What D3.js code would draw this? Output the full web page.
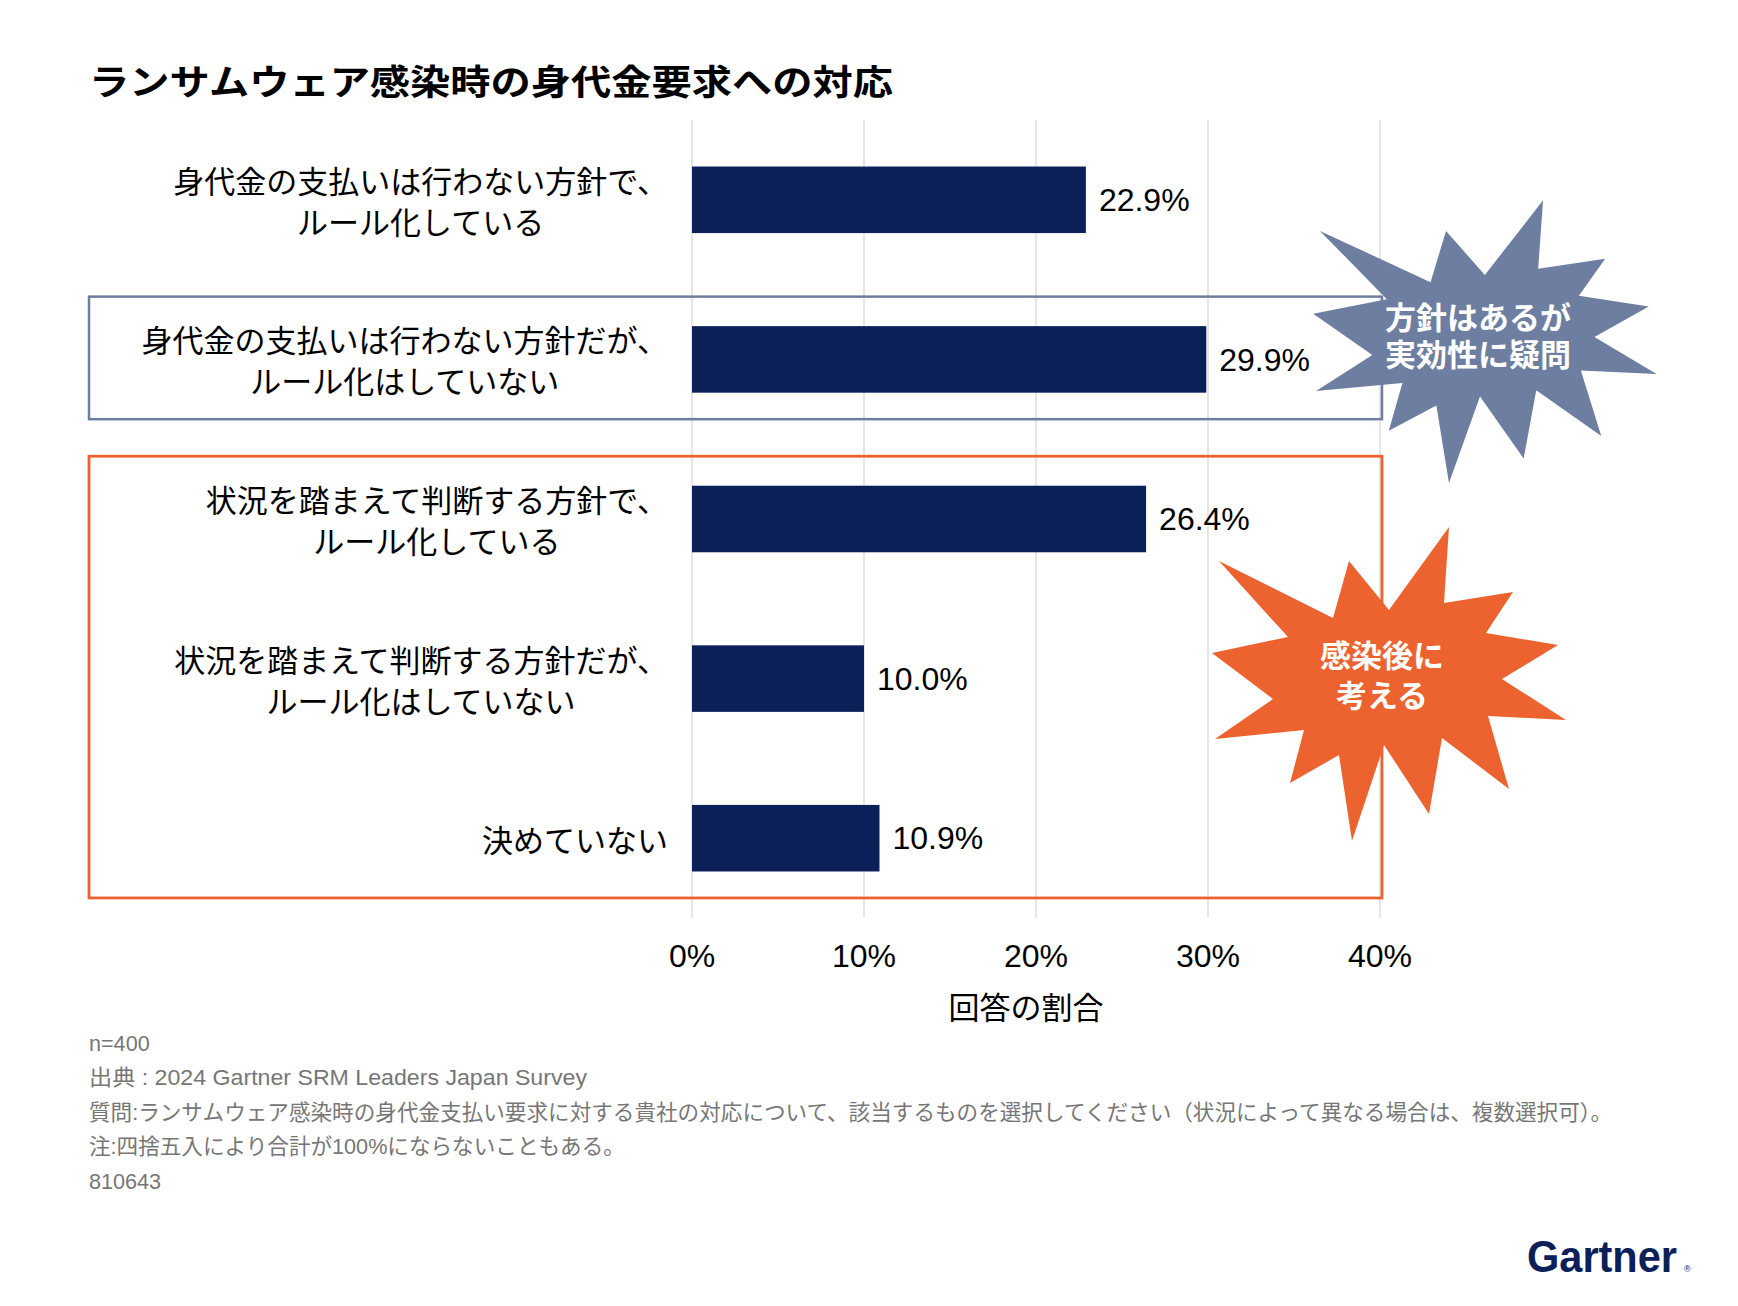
<!DOCTYPE html>
<html><head><meta charset="utf-8">
<script src="https://cdn.jsdelivr.net/npm/d3@7"></script>
<style>
html,body{margin:0;padding:0;background:#fff;}
svg{display:block;}
</style></head>
<body>
<script>
// ---- data ----
const categories = [
  ["身代金の支払いは行わない方針で、","ルール化している"],
  ["身代金の支払いは行わない方針だが、","ルール化はしていない"],
  ["状況を踏まえて判断する方針で、","ルール化している"],
  ["状況を踏まえて判断する方針だが、","ルール化はしていない"],
  ["決めていない"]
];
const values = [22.9, 29.9, 26.4, 10.0, 10.9];
const xTicks = [0, 10, 20, 30, 40];
const title = "ランサムウェア感染時の身代金要求への対応";
const xAxisTitle = "回答の割合";
const groupSlate = [1, 1];      // category index range for slate box
const groupOrange = [2, 4];     // category index range for orange box
const slateBurstText = ["方針はあるが","実効性に疑問"];
const orangeBurstText = ["感染後に","考える"];
const footnotes = [
  "n=400",
  "出典 : 2024 Gartner SRM Leaders Japan Survey",
  "質問:ランサムウェア感染時の身代金支払い要求に対する貴社の対応について、該当するものを選択してください（状況によって異なる場合は、複数選択可）。",
  "注:四捨五入により合計が100%にならないこともある。",
  "810643"
];

// ---- styles ----
const W = 1738, H = 1306;
const NAVY = "#0b2059", SLATE = "#6e7ea0", ORANGE = "#ec6330", GRID = "#d9d9d9";
const FONT = "'Liberation Sans', 'Noto Sans CJK JP', sans-serif";
const burstShape = [[-165,-119],[-51,-62],[-35,-119],[5,-70],[65,-153],[60,-77],[129,-88],[102,-47],[174,-35],[118,-1],[182,40],[104,36],[125,109],[58,58],[45,134],[0,65],[-32,161],[-45,75],[-94,103],[-80,50],[-169,59],[-111,19],[-172,-27],[-96,-43]];

const svg = d3.select("body").append("svg").attr("width", W).attr("height", H)
  .style("font-family", FONT);

const ids = categories.map((d,i)=>i);
const x = d3.scaleLinear().domain([0, 40]).range([692, 1380]);
const y = d3.scaleBand().domain(ids).range([120, 918]).paddingInner(0.583).paddingOuter(0.2915);

// title
svg.append("text").attr("x", 89).attr("y", 95)
  .attr("font-family", "'Noto Sans CJK JP', sans-serif")
  .attr("font-weight", 700).attr("font-size", 35).attr("fill", "#000")
  .attr("textLength", 804).attr("lengthAdjust", "spacingAndGlyphs")
  .text(title);

// gridlines
svg.append("g").selectAll("line").data(xTicks).join("line")
  .attr("x1", d=>x(d)).attr("x2", d=>x(d))
  .attr("y1", y.range()[0]).attr("y2", y.range()[1])
  .attr("stroke", GRID).attr("stroke-width", 1.3);

// tick labels
svg.append("g").selectAll("text").data(xTicks).join("text")
  .attr("x", d=>x(d)).attr("y", 967)
  .attr("text-anchor", "middle").attr("font-size", 32).attr("fill", "#000")
  .text(d=>d + "%");

svg.append("text").attr("x", 1026).attr("y", 1019)
  .attr("text-anchor", "middle").attr("font-size", 31).attr("fill", "#000")
  .attr("font-family", "'Noto Sans CJK JP', sans-serif")
  .text(xAxisTitle);

// group boxes
function groupBox(range, color, sw) {
  const top = y(range[0]) - 29.5;
  const bot = y(range[1]) + y.bandwidth() + 26.5;
  svg.append("rect").attr("x", 89).attr("y", top)
    .attr("width", 1382 - 89).attr("height", bot - top)
    .attr("fill", "none").attr("stroke", color).attr("stroke-width", sw);
}
groupBox(groupSlate, SLATE, 2.5);
groupBox(groupOrange, ORANGE, 2.8);

// bars
svg.append("g").selectAll("rect").data(values).join("rect")
  .attr("x", x(0)).attr("y", (d,i)=>y(i))
  .attr("width", d=>x(d) - x(0)).attr("height", y.bandwidth())
  .attr("fill", NAVY);

// value labels
svg.append("g").selectAll("text").data(values).join("text")
  .attr("x", d=>x(d) + 13).attr("y", (d,i)=>y(i) + y.bandwidth()/2)
  .attr("dy", "0.35em").attr("font-size", 32).attr("fill", "#000")
  .text(d=>d.toFixed(1) + "%");

// category labels (block right aligned, lines centered)
const labelRight = 668, lineGap = 41;
categories.forEach((lines, i) => {
  const cy = y(i) + y.bandwidth()/2;
  const t = svg.append("text")
    .attr("font-family", "'Noto Sans CJK JP', sans-serif")
    .attr("font-size", 31).attr("fill", "#000")
    .attr("text-anchor", "middle");
  const ts = lines.map((s, k) => t.append("tspan")
    .attr("dominant-baseline", "central")
    .attr("y", cy + (k - (lines.length-1)/2) * lineGap)
    .text(s));
  const maxW = d3.max(ts, s => s.node().getComputedTextLength());
  ts.forEach(s => s.attr("x", labelRight - maxW/2));
});

// starbursts
function burst(cx, cy, sx, sy, color, lines, tcy, gap) {
  svg.append("polygon")
    .attr("points", burstShape.map(p => [cx + p[0]*sx, cy + p[1]*sy].join(",")).join(" "))
    .attr("fill", color);
  const t = svg.append("text")
    .attr("text-anchor", "middle")
    .attr("font-family", FONT)
    .attr("font-weight", 700).attr("font-size", 31).attr("fill", "#fff");
  lines.forEach((s, k) => t.append("tspan")
    .attr("x", cx - 2).attr("y", tcy + (k - (lines.length-1)/2) * gap + 11)
    .text(s));
}
burst(1480, 338, 0.97, 0.9, SLATE, slateBurstText, 336, 37);
burst(1384, 680, 1, 1, ORANGE, orangeBurstText, 676, 40);

// footnotes
svg.append("g").selectAll("text").data(footnotes).join("text")
  .attr("x", 89).attr("y", (d,i)=>1050.5 + i*34.6)
  .attr("font-size", 21.6).attr("fill", "#767676")
  .each(function(d, i) { if (i === 1) d3.select(this).attr("textLength", 498).attr("lengthAdjust", "spacingAndGlyphs"); })
  .text(d=>d);

// logo
svg.append("text").attr("x", 1527).attr("y", 1272)
  .attr("font-weight", 700).attr("font-size", 44).attr("fill", NAVY)
  .attr("textLength", 150).attr("lengthAdjust", "spacingAndGlyphs")
  .text("Gartner");
svg.append("text").attr("x", 1684).attr("y", 1272)
  .attr("font-size", 9).attr("fill", NAVY).text("®");
</script>
</body></html>
